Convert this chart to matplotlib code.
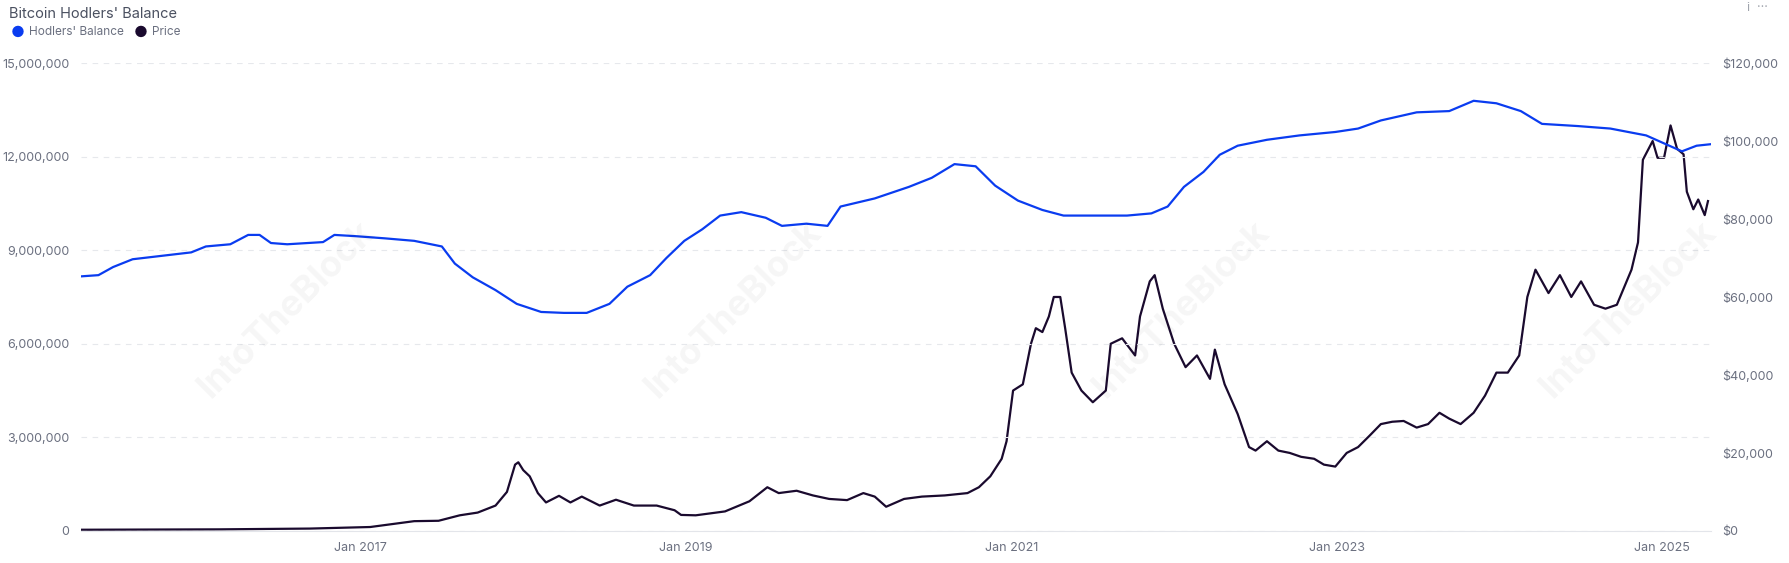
import matplotlib
matplotlib.use("Agg")
import matplotlib.pyplot as plt
from matplotlib.ticker import FuncFormatter

bal_t = [2015.28,2015.39,2015.48,2015.60,2015.78,2015.96,2016.05,2016.20,2016.31,2016.38,2016.45,2016.55,2016.77,2016.84,2016.97,2017.15,2017.33,2017.50,2017.58,2017.69,2017.83,2017.96,2018.11,2018.25,2018.39,2018.53,2018.64,2018.78,2018.88,2018.99,2019.10,2019.21,2019.34,2019.49,2019.59,2019.74,2019.87,2019.95,2020.16,2020.37,2020.51,2020.65,2020.78,2020.90,2021.04,2021.19,2021.32,2021.50,2021.71,2021.86,2021.96,2022.06,2022.18,2022.28,2022.39,2022.57,2022.77,2022.99,2023.13,2023.27,2023.49,2023.69,2023.84,2023.98,2024.13,2024.26,2024.48,2024.68,2024.90,2025.12,2025.21,2025.30]
bal_v = [8.16,8.2,8.46,8.71,8.82,8.93,9.12,9.19,9.49,9.49,9.23,9.19,9.26,9.49,9.45,9.38,9.30,9.12,8.57,8.13,7.72,7.28,7.02,6.99,6.99,7.28,7.83,8.2,8.75,9.3,9.67,10.11,10.22,10.04,9.78,9.85,9.78,10.40,10.66,11.03,11.32,11.76,11.69,11.07,10.59,10.29,10.11,10.11,10.11,10.18,10.40,11.03,11.51,12.06,12.35,12.54,12.68,12.79,12.90,13.16,13.42,13.46,13.79,13.71,13.46,13.05,12.98,12.90,12.68,12.17,12.35,12.40]

price_t = [2015.28,2016.13,2016.69,2017.06,2017.33,2017.48,2017.61,2017.72,2017.83,2017.90,2017.95,2017.97,2018.00,2018.04,2018.09,2018.14,2018.22,2018.29,2018.36,2018.47,2018.57,2018.68,2018.82,2018.93,2018.97,2019.06,2019.24,2019.39,2019.50,2019.57,2019.68,2019.78,2019.88,2019.99,2020.09,2020.16,2020.23,2020.34,2020.45,2020.59,2020.73,2020.80,2020.87,2020.94,2020.97,2021.01,2021.07,2021.12,2021.15,2021.19,2021.23,2021.26,2021.30,2021.33,2021.37,2021.43,2021.50,2021.58,2021.61,2021.68,2021.76,2021.79,2021.85,2021.88,2021.93,2022.00,2022.07,2022.14,2022.22,2022.25,2022.31,2022.39,2022.46,2022.50,2022.57,2022.64,2022.71,2022.78,2022.86,2022.92,2022.99,2023.06,2023.13,2023.20,2023.27,2023.34,2023.41,2023.49,2023.56,2023.63,2023.69,2023.76,2023.84,2023.91,2023.98,2024.05,2024.12,2024.17,2024.22,2024.30,2024.37,2024.44,2024.50,2024.58,2024.65,2024.72,2024.78,2024.81,2024.85,2024.88,2024.94,2024.97,2025.01,2025.05,2025.09,2025.13,2025.15,2025.19,2025.22,2025.26,2025.28]
price_v = [0.3,0.4,0.6,1.0,2.5,2.6,4,4.7,6.5,10,17,17.6,15.6,14,9.7,7.3,9,7.3,8.8,6.5,8,6.5,6.5,5.3,4.1,4,5,7.6,11.2,9.7,10.3,9.1,8.2,7.9,9.7,8.8,6.2,8.2,8.8,9.1,9.7,11.2,14,18.5,23,36,37.6,48,52,51,55,60,60,52,40.6,36,33,36,48,49.4,45,55,64,65.6,57,48,42,45,39,46.5,37.6,30,21.5,20.6,23,20.6,20,19,18.5,17,16.5,20,21.5,24.4,27.4,28,28.2,26.5,27.4,30.3,28.8,27.4,30.3,34.7,40.6,40.6,45,60,67,61,65.6,60,64,58,57,58,64,67,74,95.2,100,95.7,95.7,104,98,96.6,87,82.5,85,81,84.6]

years = [2017, 2019, 2021, 2023, 2025]
year_labels = ["Jan 2017", "Jan 2019", "Jan 2021", "Jan 2023", "Jan 2025"]

plt.rcParams["font.family"] = "Inter"
fig = plt.figure(figsize=(17.9, 5.63), dpi=100)
ax = fig.add_axes([0.045, 0.057, 0.911, 0.831])
ax2 = ax.twinx()
tc = "#6b7080"

ax.plot(bal_t, [v * 1e6 for v in bal_v], color="#0a3cf0", lw=1.6, zorder=3)
ax2.plot(price_t, [v * 1e3 for v in price_v], color="#1a0a2e", lw=1.6)
ax.set_zorder(ax2.get_zorder() + 1); ax.patch.set_visible(False)

ax.set_xlim(2015.28, 2025.30)
ax.set_ylim(0, 15e6); ax2.set_ylim(0, 120e3)
ax.set_yticks([0, 3e6, 6e6, 9e6, 12e6, 15e6])
ax2.set_yticks([0, 20e3, 40e3, 60e3, 80e3, 100e3, 120e3])
ax.yaxis.set_major_formatter(FuncFormatter(lambda v, p: f"{int(v):,}"))
ax2.yaxis.set_major_formatter(FuncFormatter(lambda v, p: f"${int(v):,}"))
ax.set_xticks(years); ax.set_xticklabels(year_labels)
for a in (ax, ax2):
    a.tick_params(length=0, labelsize=9, colors=tc, pad=8)
    for s in a.spines.values():
        s.set_visible(False)
ax.spines["bottom"].set_visible(True); ax.spines["bottom"].set_color("#e3e5ea")
ax.grid(axis="y", color="#e6e8ec", ls=(0, (5, 5)), lw=0.8)
ax.set_axisbelow(True)

fig.text(0.005, 0.975, "Bitcoin Hodlers' Balance", fontsize=10.5, color="#4a5060", va="center")
fig.text(0.006, 0.943, "●", fontsize=11, color="#0a3cf0", va="center")
fig.text(0.016, 0.943, "Hodlers' Balance", fontsize=8.5, color=tc, va="center")
fig.text(0.075, 0.943, "●", fontsize=11, color="#1a0a2e", va="center")
fig.text(0.085, 0.943, "Price", fontsize=8.5, color=tc, va="center")
fig.text(0.976, 0.985, "i  ···", fontsize=9, color="#a0a4ad", va="center")
for x in [0.16, 0.41, 0.66, 0.91]:
    fig.text(x, 0.45, "IntoTheBlock", fontsize=26, color="#000000", alpha=0.04,
             rotation=45, ha="center", va="center", fontweight="bold")
fig.savefig("out.png", dpi=100)
